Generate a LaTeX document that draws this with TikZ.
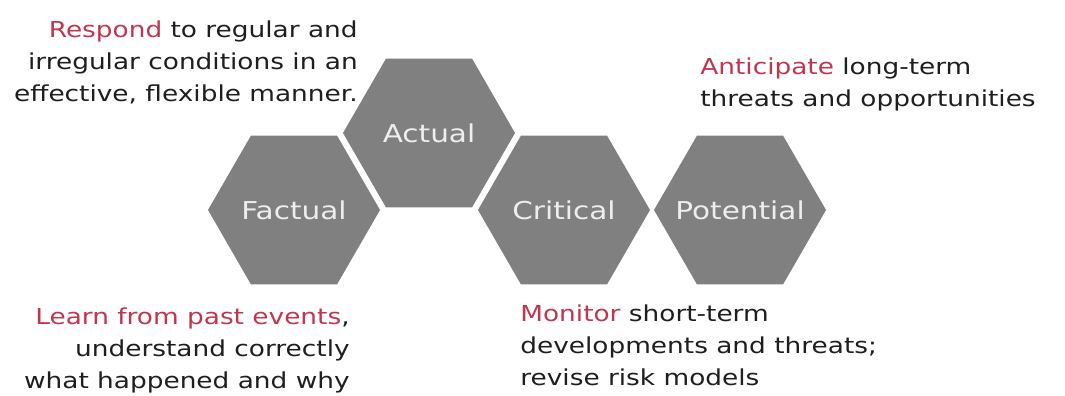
\documentclass[tikz,border=0pt]{standalone}
\usepackage{fontspec}
\setmainfont{DejaVu Sans}[FakeStretch=1.2]
\usetikzlibrary{shapes.geometric}

\definecolor{hexgray}{RGB}{128,128,128}
\definecolor{hexlabel}{RGB}{238,238,238}
\definecolor{keyred}{RGB}{192,54,80}
\definecolor{bodytext}{RGB}{30,30,30}

\tikzset{
	% negative inner sep keeps the label from widening the cell
	hexcell/.style={regular polygon, regular polygon sides=6, minimum size=3.44cm,
		inner sep=-0.4cm, outer sep=0pt, fill=hexgray, text=hexlabel,
		font=\fontsize{14}{16}\selectfont},
	blurb/.style={inner sep=0pt, text=bodytext, font=\fontsize{12.5}{18.2}\selectfont}
}
\newcommand{\key}[1]{\textcolor{keyred}{#1}}

\begin{document}
\begin{tikzpicture}
		\useasboundingbox (0,0) rectangle (21.3,7.92);
		
		% the four hexagons
		\node [hexcell] (factual) at (5.88,3.72) {Factual};
		\node [hexcell] (actual) at (8.58,5.26) {Actual};
		\node [hexcell] (critical) at (11.28,3.72) {Critical};
		\node [hexcell] (potential) at (14.80,3.72) {Potential};
		
		% descriptions
		\node [blurb, align=right, anchor=east] (respond) at (7.16,6.68)
			{\key{Respond} to regular and\\ irregular conditions in an\\ effective, flexible manner.};
		\node [blurb, align=left, anchor=west] (anticipate) at (14.0,6.24)
			{\key{Anticipate} long-term\\ threats and opportunities};
		\node [blurb, align=right, anchor=east] (learn) at (7.0,0.92)
			{\key{Learn from past events},\\ understand correctly\\ what happened and why};
		\node [blurb, align=left, anchor=west] (monitor) at (10.4,1.02)
			{\key{Monitor} short-term\\ developments and threats;\\ revise risk models};
	\end{tikzpicture}
\end{document}
